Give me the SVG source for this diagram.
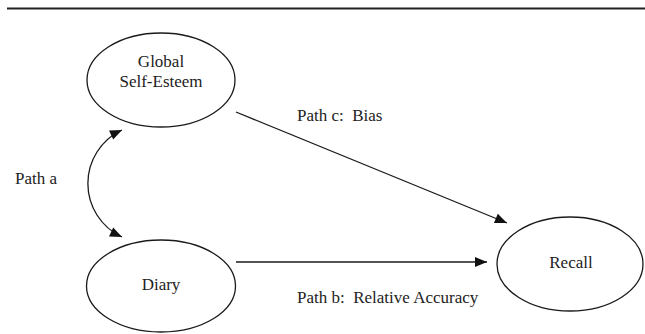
<svg xmlns="http://www.w3.org/2000/svg" width="645" height="334" viewBox="0 0 645 334">
<style>
.node ellipse{fill:#fff;stroke:#1a1a1a;stroke-width:1.3}
text{font-size:17px;fill:#222;white-space:pre}
.c{text-anchor:middle}
.edge{fill:none;stroke:#1a1a1a;stroke-width:1.3}
</style>
<defs>
<marker id="ah" markerUnits="userSpaceOnUse" markerWidth="14" markerHeight="12" viewBox="0 0 14 12" refX="13" refY="6" orient="auto-start-reverse">
<path d="M1,1 L13,6 L1,11 Z" fill="#111"/>
</marker>
</defs>
<line x1="7" y1="8.5" x2="645" y2="8.5" stroke="#222" stroke-width="2.2"/>
<g font-family="'Liberation Serif', 'Times New Roman', serif">
<g id="global-self-esteem" class="node">
<ellipse cx="161" cy="80" rx="74" ry="47"/>
<text class="c" x="161" y="67">Global</text>
<text class="c" x="161" y="87">Self-Esteem</text>
</g>
<g id="diary" class="node">
<ellipse cx="161" cy="286" rx="74.5" ry="46"/>
<text class="c" x="161" y="290">Diary</text>
</g>
<g id="recall" class="node">
<ellipse cx="570" cy="264" rx="73" ry="47"/>
<text class="c" x="571" y="268">Recall</text>
</g>
<g id="connectors">
<path class="edge" d="M122,130 A59,59 0 0 0 122,237" marker-start="url(#ah)" marker-end="url(#ah)"/>
<line class="edge" x1="236" y1="112" x2="507" y2="223" marker-end="url(#ah)"/>
<line class="edge" x1="236" y1="262" x2="487" y2="262" marker-end="url(#ah)"/>
</g>
<g id="labels">
<text x="15" y="184">Path a</text>
<text x="297" y="121">Path c:  Bias</text>
<text x="297" y="303">Path b:  Relative Accuracy</text>
</g>
</g>
</svg>
